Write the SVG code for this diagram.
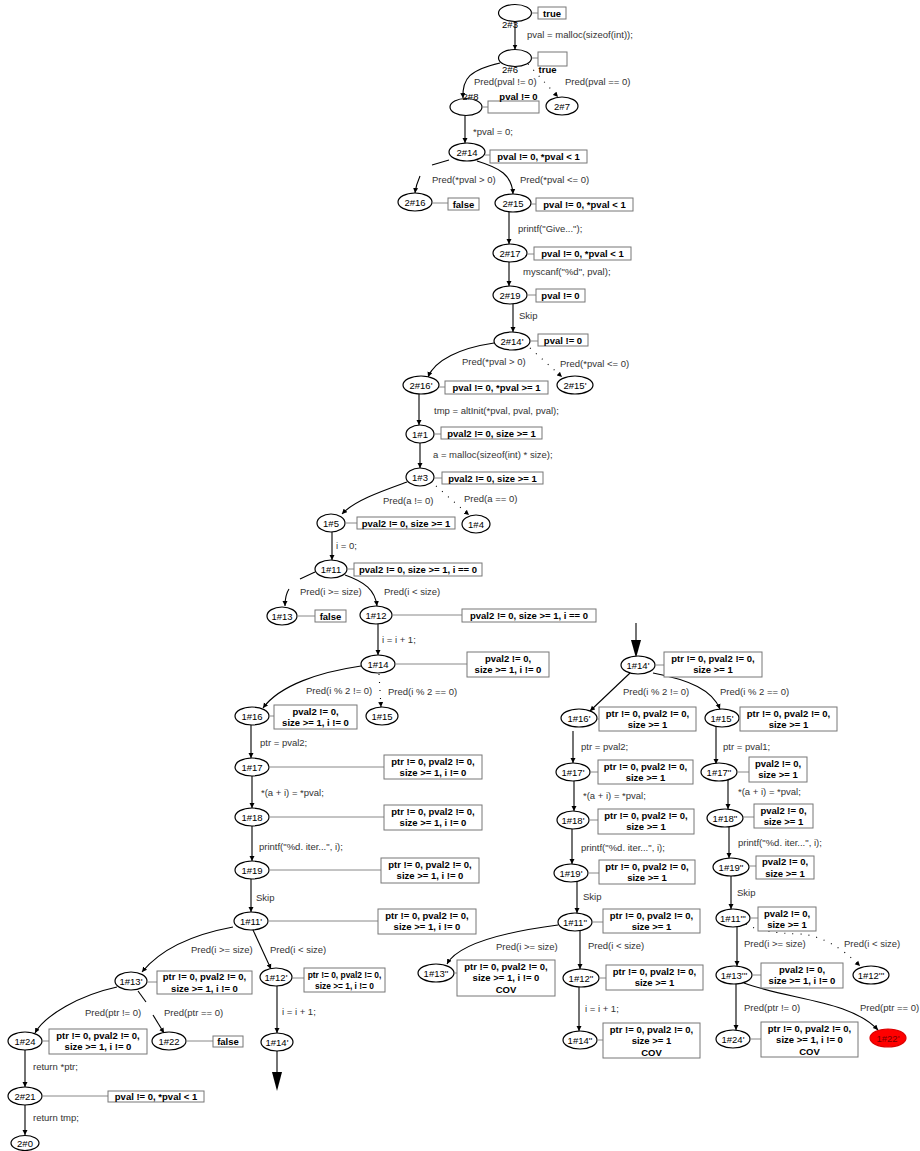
<svg xmlns="http://www.w3.org/2000/svg" width="920" height="1151" viewBox="0 0 920 1151">
<style>
.n{fill:#fff;stroke:#000;stroke-width:1.2}
.r{fill:#f00;stroke:#d00;stroke-width:1.2}
.nl{font-family:"Liberation Sans",Arial,sans-serif;font-size:9.5px;text-anchor:middle;fill:#000}
.bx{fill:#fff;stroke:#777;stroke-width:1}
.bt{font-family:"Liberation Sans",Arial,sans-serif;font-size:9.5px;font-weight:bold;text-anchor:middle;fill:#000}
.c{stroke:#888;stroke-width:1}
.e{fill:none;stroke:#000;stroke-width:1.1;marker-end:url(#ah)}
.p{fill:none;stroke:#000;stroke-width:1.1}
.d{fill:none;stroke:#000;stroke-width:1.1;stroke-dasharray:1 7;marker-end:url(#ah)}
.el{font-family:"Liberation Sans",Arial,sans-serif;font-size:9.5px;fill:#333}
</style>
<defs>
<marker id="ah" markerWidth="6" markerHeight="6" refX="5" refY="3" orient="auto" markerUnits="userSpaceOnUse"><path d="M0,0.5 L5,3 L0,5.5z" fill="#000"/></marker>
</defs>
<rect width="920" height="1151" fill="#fff"/>
<g id="edges">
<path class="e" d="M515,21.5 L515,49.5"/><text class="el" x="527" y="38">pval = malloc(sizeof(int));</text>
<path class="e" d="M500,63 C470,70 462,78 463,98"/><text class="el" x="474" y="85">Pred(pval != 0)</text>
<path class="d" d="M528,64 L558,97"/><text class="el" x="565" y="85">Pred(pval == 0)</text>
<path class="e" d="M465,116 L465,143"/><text class="el" x="473" y="135">*pval = 0;</text>
<path class="p" d="M449,160 L432,165"/><path class="e" d="M420,176 Q416,185 415,193"/><text class="el" x="432" y="183">Pred(*pval &gt; 0)</text>
<path class="e" d="M477,161 C500,168 512,175 513,194"/><text class="el" x="520" y="183">Pred(*pval &lt;= 0)</text>
<path class="e" d="M509,212 L509,244"/><text class="el" x="518" y="232">printf("Give...");</text>
<path class="e" d="M509,262 L509,286"/><text class="el" x="523" y="275">myscanf("%d", pval);</text>
<path class="e" d="M513,304 L513,332"/><text class="el" x="519" y="319">Skip</text>
<path class="e" d="M494,343 C460,348 435,360 428,377"/><text class="el" x="462" y="365">Pred(*pval &gt; 0)</text>
<path class="d" d="M530,348 L562,377"/><text class="el" x="560" y="367">Pred(*pval &lt;= 0)</text>
<path class="e" d="M419,394 L419,425"/><text class="el" x="434" y="414">tmp = altInit(*pval, pval, pval);</text>
<path class="e" d="M420,443 L420,468"/><text class="el" x="433" y="458">a = malloc(sizeof(int) * size);</text>
<path class="e" d="M407,482 C385,490 355,500 342,514"/><text class="el" x="383" y="504">Pred(a != 0)</text>
<path class="d" d="M436,486 L469,515"/><text class="el" x="464" y="502">Pred(a == 0)</text>
<path class="e" d="M332,532 L332,560"/><text class="el" x="336" y="549">i = 0;</text>
<path class="p" d="M315,572 L300,579"/><path class="e" d="M289,589 Q285,595 285,606"/><text class="el" x="300" y="595">Pred(i &gt;= size)</text>
<path class="e" d="M345,575 C365,582 375,590 377,606"/><text class="el" x="384" y="595">Pred(i &lt; size)</text>
<path class="e" d="M378,624 L378,655"/><text class="el" x="382" y="643">i = i + 1;</text>
<path class="e" d="M361,666 C320,672 280,685 263,708"/><text class="el" x="306" y="694">Pred(i % 2 != 0)</text>
<path class="d" d="M379,674 L381,707"/><text class="el" x="388" y="695">Pred(i % 2 == 0)</text>
<path class="e" d="M251,725 L251,758"/><text class="el" x="260" y="746">ptr = pval2;</text>
<path class="e" d="M252,776 L252,808"/><text class="el" x="261" y="796">*(a + i) = *pval;</text>
<path class="e" d="M252,826 L252,861"/><text class="el" x="259" y="850">printf("%d. iter...", i);</text>
<path class="e" d="M251,879 L251,912"/><text class="el" x="256" y="901">Skip</text>
<path class="e" d="M233,927 C190,935 160,950 142,972"/><text class="el" x="191" y="953">Pred(i &gt;= size)</text>
<path class="e" d="M253,930 L271,969"/><text class="el" x="270" y="953">Pred(i &lt; size)</text>
<path class="e" d="M277,986 L277,1033"/><text class="el" x="282" y="1015">i = i + 1;</text>
<path class="e" d="M117,987 C80,995 45,1015 35,1033"/><text class="el" x="85" y="1016">Pred(ptr != 0)</text>
<path class="p" d="M138,991 L146,1002"/><path class="e" d="M153,1015 L164,1033"/><text class="el" x="164" y="1016">Pred(ptr == 0)</text>
<path class="e" d="M25,1050 L25,1087"/><text class="el" x="33" y="1070">return *ptr;</text>
<path class="e" d="M25,1105 L25,1135"/><text class="el" x="33" y="1121">return tmp;</text>
<path class="p" d="M277,1051 L277,1073"/><polygon points="272,1072 282,1072 277,1091" fill="#000"/>
<path class="p" d="M636,623 L636,641"/><polygon points="631,640 641,640 636,658" fill="#000"/>
<path class="e" d="M630,673 L590,711"/><text class="el" x="623" y="695">Pred(i % 2 != 0)</text>
<path class="e" d="M653,673 C690,680 712,690 720,709"/><text class="el" x="720" y="695">Pred(i % 2 == 0)</text>
<path class="e" d="M573,731 L573,763"/><text class="el" x="581" y="750">ptr = pval2;</text>
<path class="e" d="M716,727 L716,764"/><text class="el" x="723" y="750">ptr = pval1;</text>
<path class="e" d="M574,781 L574,811"/><text class="el" x="583" y="799">*(a + i) = *pval;</text>
<path class="e" d="M728,780 L728,809"/><text class="el" x="738" y="795">*(a + i) = *pval;</text>
<path class="e" d="M572,829 L572,864"/><text class="el" x="581" y="851">printf("%d. iter...", i);</text>
<path class="e" d="M729,827 L729,858"/><text class="el" x="738" y="846">printf("%d. iter...", i);</text>
<path class="e" d="M577,882 L577,913"/><text class="el" x="583" y="900">Skip</text>
<path class="e" d="M731,876 L731,909"/><text class="el" x="737" y="896">Skip</text>
<path class="e" d="M558,925 C520,930 460,940 447,964"/><text class="el" x="496" y="950">Pred(i &gt;= size)</text>
<path class="e" d="M580,931 L580,969"/><text class="el" x="588" y="949">Pred(i &lt; size)</text>
<path class="e" d="M579,987 L579,1031"/><text class="el" x="585" y="1012">i = i + 1;</text>
<path class="e" d="M737,927 L737,966"/><text class="el" x="744" y="947">Pred(i &gt;= size)</text>
<path class="d" d="M746,924 Q760,933 800,934 Q830,936 860,966"/><text class="el" x="844" y="947">Pred(i &lt; size)</text>
<path class="e" d="M736,984 L736,1030"/><text class="el" x="744" y="1011">Pred(ptr != 0)</text>
<path class="e" d="M744,983 C790,1000 850,1000 878,1030"/><text class="el" x="860" y="1011">Pred(ptr == 0)</text>
</g>
<g id="n2_3"><ellipse class="n" cx="515" cy="13" rx="16.5" ry="8.5"/><text class="nl" x="510" y="27.5">2#3</text><line class="c" x1="531.5" y1="13" x2="538" y2="13"/><rect class="bx" x="538" y="7" width="28" height="12"/><text class="bt" x="552" y="16.5">true</text></g>
<g id="n2_6"><ellipse class="n" cx="515" cy="58" rx="16.5" ry="8.5"/><text class="nl" x="510" y="72.5">2#6</text><line class="c" x1="531.5" y1="58" x2="538" y2="58"/><rect class="bx" x="538" y="52" width="29" height="14"/><text class="bt" x="547.5" y="72.5">true</text></g>
<g id="n2_8"><ellipse class="n" cx="466" cy="107" rx="16" ry="8.5"/><text class="nl" x="470.5" y="99.5">2#8</text><line class="c" x1="482" y1="107" x2="488" y2="107"/><rect class="bx" x="488" y="101" width="51" height="12"/><text class="bt" x="518.5" y="99.5">pval != 0</text></g>
<g id="n2_7"><ellipse class="n" cx="562" cy="106" rx="16" ry="9"/><text class="nl" x="562" y="109.5">2#7</text></g>
<g id="n2_14"><ellipse class="n" cx="467" cy="152" rx="18" ry="9"/><text class="nl" x="467" y="155.5">2#14</text><line class="c" x1="485" y1="155" x2="490" y2="155"/><rect class="bx" x="490" y="150" width="97" height="13"/><text class="bt" x="538.5" y="160">pval != 0, *pval &lt; 1</text></g>
<g id="n2_16"><ellipse class="n" cx="415" cy="202" rx="17" ry="9"/><text class="nl" x="415" y="205.5">2#16</text><line class="c" x1="432" y1="203" x2="448" y2="203"/><rect class="bx" x="448" y="198" width="31" height="12"/><text class="bt" x="463.5" y="207.5">false</text></g>
<g id="n2_15"><ellipse class="n" cx="513" cy="203" rx="18" ry="9"/><text class="nl" x="513" y="206.5">2#15</text><line class="c" x1="531" y1="204" x2="536" y2="204"/><rect class="bx" x="536" y="198" width="97" height="13"/><text class="bt" x="584.5" y="208">pval != 0, *pval &lt; 1</text></g>
<g id="n2_17"><ellipse class="n" cx="510" cy="253" rx="17" ry="9"/><text class="nl" x="510" y="256.5">2#17</text><line class="c" x1="527" y1="254" x2="534" y2="254"/><rect class="bx" x="534" y="247" width="97" height="13"/><text class="bt" x="582.5" y="257">pval != 0, *pval &lt; 1</text></g>
<g id="n2_19"><ellipse class="n" cx="510" cy="295" rx="17" ry="9"/><text class="nl" x="510" y="298.5">2#19</text><line class="c" x1="527" y1="295" x2="536" y2="295"/><rect class="bx" x="536" y="289" width="49" height="13"/><text class="bt" x="560.5" y="299">pval != 0</text></g>
<g id="n2_14p"><ellipse class="n" cx="512" cy="341" rx="18" ry="9"/><text class="nl" x="512" y="344.5">2#14'</text><line class="c" x1="530" y1="341" x2="538" y2="341"/><rect class="bx" x="538" y="334" width="50" height="12"/><text class="bt" x="563" y="343.5">pval != 0</text></g>
<g id="n2_16p"><ellipse class="n" cx="421" cy="385" rx="18" ry="9"/><text class="nl" x="421" y="388.5">2#16'</text><line class="c" x1="439" y1="387" x2="445" y2="387"/><rect class="bx" x="445" y="381" width="103" height="13"/><text class="bt" x="496.5" y="391">pval != 0, *pval &gt;= 1</text></g>
<g id="n2_15p"><ellipse class="n" cx="575" cy="385" rx="18" ry="9"/><text class="nl" x="575" y="388.5">2#15'</text></g>
<g id="n1_1"><ellipse class="n" cx="420" cy="434" rx="14" ry="9"/><text class="nl" x="420" y="437.5">1#1</text><line class="c" x1="434" y1="434" x2="441" y2="434"/><rect class="bx" x="441" y="427" width="101" height="12"/><text class="bt" x="491.5" y="436.5">pval2 != 0, size &gt;= 1</text></g>
<g id="n1_3"><ellipse class="n" cx="420" cy="477" rx="14" ry="9"/><text class="nl" x="420" y="480.5">1#3</text><line class="c" x1="434" y1="478" x2="442" y2="478"/><rect class="bx" x="442" y="472" width="101" height="12"/><text class="bt" x="492.5" y="481.5">pval2 != 0, size &gt;= 1</text></g>
<g id="n1_5"><ellipse class="n" cx="331" cy="523" rx="14" ry="9"/><text class="nl" x="331" y="526.5">1#5</text><line class="c" x1="345" y1="523" x2="357" y2="523"/><rect class="bx" x="357" y="517" width="98" height="12"/><text class="bt" x="406" y="526.5">pval2 != 0, size &gt;= 1</text></g>
<g id="n1_4"><ellipse class="n" cx="476" cy="524" rx="14" ry="9"/><text class="nl" x="476" y="527.5">1#4</text></g>
<g id="n1_11"><ellipse class="n" cx="331" cy="569" rx="16" ry="9"/><text class="nl" x="331" y="572.5">1#11</text><line class="c" x1="347" y1="569" x2="354" y2="569"/><rect class="bx" x="354" y="563" width="128" height="13"/><text class="bt" x="418" y="573">pval2 != 0, size &gt;= 1, i == 0</text></g>
<g id="n1_13"><ellipse class="n" cx="282" cy="616" rx="15" ry="9"/><text class="nl" x="282" y="619.5">1#13</text><line class="c" x1="297" y1="616" x2="315" y2="616"/><rect class="bx" x="315" y="610" width="31" height="12"/><text class="bt" x="330.5" y="619.5">false</text></g>
<g id="n1_12"><ellipse class="n" cx="376" cy="615" rx="16" ry="9"/><text class="nl" x="376" y="618.5">1#12</text><line class="c" x1="392" y1="615" x2="462" y2="615"/><rect class="bx" x="462" y="609" width="134" height="13"/><text class="bt" x="529" y="619">pval2 != 0, size &gt;= 1, i == 0</text></g>
<g id="n1_14"><ellipse class="n" cx="378" cy="664" rx="17" ry="9"/><text class="nl" x="378" y="667.5">1#14</text><line class="c" x1="395" y1="664" x2="467" y2="664"/><rect class="bx" x="467" y="652" width="82" height="25"/><text class="bt" x="508" y="661.5">pval2 != 0,</text><text class="bt" x="508" y="673">size &gt;= 1, i != 0</text></g>
<g id="n1_16"><ellipse class="n" cx="252" cy="716" rx="17" ry="9"/><text class="nl" x="252" y="719.5">1#16</text><line class="c" x1="269" y1="716" x2="274" y2="716"/><rect class="bx" x="274" y="705" width="83" height="24"/><text class="bt" x="315.5" y="714.5">pval2 != 0,</text><text class="bt" x="315.5" y="726">size &gt;= 1, i != 0</text></g>
<g id="n1_15"><ellipse class="n" cx="382" cy="716" rx="16" ry="9"/><text class="nl" x="382" y="719.5">1#15</text></g>
<g id="n1_17"><ellipse class="n" cx="252" cy="767" rx="17" ry="9"/><text class="nl" x="252" y="770.5">1#17</text><line class="c" x1="269" y1="767" x2="384" y2="767"/><rect class="bx" x="384" y="755" width="98" height="24"/><text class="bt" x="433" y="764.5">ptr != 0, pval2 != 0,</text><text class="bt" x="433" y="776">size &gt;= 1, i != 0</text></g>
<g id="n1_18"><ellipse class="n" cx="252" cy="817" rx="17" ry="9"/><text class="nl" x="252" y="820.5">1#18</text><line class="c" x1="269" y1="817" x2="384" y2="817"/><rect class="bx" x="384" y="805" width="98" height="25"/><text class="bt" x="433" y="814.5">ptr != 0, pval2 != 0,</text><text class="bt" x="433" y="826">size &gt;= 1, i != 0</text></g>
<g id="n1_19"><ellipse class="n" cx="252" cy="870" rx="17" ry="9"/><text class="nl" x="252" y="873.5">1#19</text><line class="c" x1="269" y1="870" x2="381" y2="870"/><rect class="bx" x="381" y="858" width="98" height="25"/><text class="bt" x="430" y="867.5">ptr != 0, pval2 != 0,</text><text class="bt" x="430" y="879">size &gt;= 1, i != 0</text></g>
<g id="n1_11p"><ellipse class="n" cx="251" cy="921" rx="17" ry="9"/><text class="nl" x="251" y="924.5">1#11'</text><line class="c" x1="268" y1="921" x2="378" y2="921"/><rect class="bx" x="378" y="909" width="98" height="25"/><text class="bt" x="427" y="918.5">ptr != 0, pval2 != 0,</text><text class="bt" x="427" y="930">size &gt;= 1, i != 0</text></g>
<g id="n1_13p"><ellipse class="n" cx="131" cy="981" rx="16" ry="9"/><text class="nl" x="131" y="984.5">1#13'</text><line class="c" x1="147" y1="982" x2="157" y2="982"/><rect class="bx" x="157" y="971" width="95" height="23"/><text class="bt" x="204.5" y="980">ptr != 0, pval2 != 0,</text><text class="bt" x="204.5" y="991.5">size &gt;= 1, i != 0</text></g>
<g id="n1_12p"><ellipse class="n" cx="276" cy="977" rx="16" ry="9"/><text class="nl" x="276" y="980.5">1#12'</text><line class="c" x1="292" y1="978" x2="304" y2="978"/><rect class="bx" x="304" y="968" width="81" height="24"/><text class="bt" x="344.5" y="977.5" style="font-size:8.4px">ptr != 0, pval2 != 0,</text><text class="bt" x="344.5" y="989" style="font-size:8.4px">size &gt;= 1, i != 0</text></g>
<g id="n1_24"><ellipse class="n" cx="25" cy="1041" rx="17" ry="9"/><text class="nl" x="25" y="1044.5">1#24</text><line class="c" x1="42" y1="1041" x2="49" y2="1041"/><rect class="bx" x="49" y="1029" width="98" height="25"/><text class="bt" x="98" y="1038.5">ptr != 0, pval2 != 0,</text><text class="bt" x="98" y="1050">size &gt;= 1, i != 0</text></g>
<g id="n1_22"><ellipse class="n" cx="169" cy="1041" rx="17" ry="9"/><text class="nl" x="169" y="1044.5">1#22</text><line class="c" x1="186" y1="1041" x2="213" y2="1041"/><rect class="bx" x="213" y="1036" width="30" height="11"/><text class="bt" x="228" y="1045">false</text></g>
<g id="n2_21"><ellipse class="n" cx="25" cy="1096" rx="17" ry="9"/><text class="nl" x="25" y="1099.5">2#21</text><line class="c" x1="42" y1="1096" x2="108" y2="1096"/><rect class="bx" x="108" y="1091" width="96" height="11"/><text class="bt" x="156" y="1100">pval != 0, *pval &lt; 1</text></g>
<g id="n2_0"><ellipse class="n" cx="25" cy="1143" rx="14" ry="7.5"/><text class="nl" x="25" y="1146.5">2#0</text></g>
<g id="n1_14p_left"><ellipse class="n" cx="277" cy="1042" rx="16" ry="9"/><text class="nl" x="277" y="1045.5">1#14'</text></g>
<g id="n1_14p_right"><ellipse class="n" cx="638" cy="665" rx="17" ry="9"/><text class="nl" x="638" y="668.5">1#14'</text><line class="c" x1="655" y1="665" x2="664" y2="665"/><rect class="bx" x="664" y="652" width="98" height="25"/><text class="bt" x="713" y="661.5">ptr != 0, pval2 != 0,</text><text class="bt" x="713" y="673">size &gt;= 1</text></g>
<g id="n1_16p"><ellipse class="n" cx="579" cy="718" rx="18" ry="9"/><text class="nl" x="579" y="721.5">1#16'</text><line class="c" x1="597" y1="719" x2="599" y2="719"/><rect class="bx" x="599" y="707" width="97" height="24"/><text class="bt" x="647.5" y="716.5">ptr != 0, pval2 != 0,</text><text class="bt" x="647.5" y="728">size &gt;= 1</text></g>
<g id="n1_15p"><ellipse class="n" cx="722" cy="718" rx="17" ry="9"/><text class="nl" x="722" y="721.5">1#15'</text><line class="c" x1="739" y1="719" x2="740" y2="719"/><rect class="bx" x="740" y="707" width="97" height="24"/><text class="bt" x="788.5" y="716.5">ptr != 0, pval2 != 0,</text><text class="bt" x="788.5" y="728">size &gt;= 1</text></g>
<g id="n1_17p"><ellipse class="n" cx="573" cy="772" rx="17" ry="9"/><text class="nl" x="573" y="775.5">1#17'</text><line class="c" x1="590" y1="772" x2="598" y2="772"/><rect class="bx" x="598" y="760" width="95" height="24"/><text class="bt" x="645.5" y="769.5">ptr != 0, pval2 != 0,</text><text class="bt" x="645.5" y="781">size &gt;= 1</text></g>
<g id="n1_17pp"><ellipse class="n" cx="719" cy="772" rx="18" ry="9"/><text class="nl" x="719" y="775.5">1#17''</text><line class="c" x1="737" y1="772" x2="749" y2="772"/><rect class="bx" x="749" y="757" width="58" height="25"/><text class="bt" x="778" y="766.5">pval2 != 0,</text><text class="bt" x="778" y="778">size &gt;= 1</text></g>
<g id="n1_18p"><ellipse class="n" cx="573" cy="820" rx="16" ry="9"/><text class="nl" x="573" y="823.5">1#18'</text><line class="c" x1="589" y1="820" x2="598" y2="820"/><rect class="bx" x="598" y="809" width="96" height="25"/><text class="bt" x="646" y="818.5">ptr != 0, pval2 != 0,</text><text class="bt" x="646" y="830">size &gt;= 1</text></g>
<g id="n1_18pp"><ellipse class="n" cx="725" cy="818" rx="18" ry="9"/><text class="nl" x="725" y="821.5">1#18''</text><line class="c" x1="743" y1="817" x2="754" y2="817"/><rect class="bx" x="754" y="804" width="59" height="24"/><text class="bt" x="783.5" y="813.5">pval2 != 0,</text><text class="bt" x="783.5" y="825">size &gt;= 1</text></g>
<g id="n1_19p"><ellipse class="n" cx="571" cy="873" rx="17" ry="9"/><text class="nl" x="571" y="876.5">1#19'</text><line class="c" x1="588" y1="873" x2="599" y2="873"/><rect class="bx" x="599" y="860" width="96" height="24"/><text class="bt" x="647" y="869.5">ptr != 0, pval2 != 0,</text><text class="bt" x="647" y="881">size &gt;= 1</text></g>
<g id="n1_19pp"><ellipse class="n" cx="731" cy="867" rx="18" ry="9"/><text class="nl" x="731" y="870.5">1#19''</text><line class="c" x1="749" y1="866" x2="756" y2="866"/><rect class="bx" x="756" y="856" width="58" height="23"/><text class="bt" x="785" y="865">pval2 != 0,</text><text class="bt" x="785" y="876.5">size &gt;= 1</text></g>
<g id="n1_11pp"><ellipse class="n" cx="575" cy="922" rx="17" ry="9"/><text class="nl" x="575" y="925.5">1#11''</text><line class="c" x1="592" y1="922" x2="603" y2="922"/><rect class="bx" x="603" y="909" width="97" height="24"/><text class="bt" x="651.5" y="918.5">ptr != 0, pval2 != 0,</text><text class="bt" x="651.5" y="930">size &gt;= 1</text></g>
<g id="n1_11ppp"><ellipse class="n" cx="733" cy="918" rx="17" ry="9"/><text class="nl" x="733" y="921.5">1#11'''</text><line class="c" x1="750" y1="918" x2="758" y2="918"/><rect class="bx" x="758" y="907" width="58" height="24"/><text class="bt" x="787" y="916.5">pval2 != 0,</text><text class="bt" x="787" y="928">size &gt;= 1</text></g>
<g id="n1_13pp"><ellipse class="n" cx="436" cy="973" rx="18" ry="9"/><text class="nl" x="436" y="976.5">1#13''</text><line class="c" x1="454" y1="973" x2="457" y2="973"/><rect class="bx" x="457" y="960" width="98" height="36"/><text class="bt" x="506" y="969.5">ptr != 0, pval2 != 0,</text><text class="bt" x="506" y="981">size &gt;= 1, i != 0</text><text class="bt" x="506" y="992.5">COV</text></g>
<g id="n1_12pp"><ellipse class="n" cx="581" cy="978" rx="18" ry="9"/><text class="nl" x="581" y="981.5">1#12''</text><line class="c" x1="599" y1="978" x2="606" y2="978"/><rect class="bx" x="606" y="965" width="97" height="25"/><text class="bt" x="654.5" y="974.5">ptr != 0, pval2 != 0,</text><text class="bt" x="654.5" y="986">size &gt;= 1</text></g>
<g id="n1_14pp"><ellipse class="n" cx="580" cy="1040" rx="17" ry="9"/><text class="nl" x="580" y="1043.5">1#14''</text><line class="c" x1="597" y1="1040" x2="603" y2="1040"/><rect class="bx" x="603" y="1023" width="97" height="35"/><text class="bt" x="651.5" y="1032.5">ptr != 0, pval2 != 0,</text><text class="bt" x="651.5" y="1044">size &gt;= 1</text><text class="bt" x="651.5" y="1055.5">COV</text></g>
<g id="n1_13ppp"><ellipse class="n" cx="734" cy="975" rx="18" ry="9"/><text class="nl" x="734" y="978.5">1#13'''</text><line class="c" x1="752" y1="975" x2="761" y2="975"/><rect class="bx" x="761" y="963" width="82" height="25"/><text class="bt" x="802" y="972.5">pval2 != 0,</text><text class="bt" x="802" y="984">size &gt;= 1, i != 0</text></g>
<g id="n1_12ppp"><ellipse class="n" cx="871" cy="975" rx="18" ry="9"/><text class="nl" x="871" y="978.5">1#12'''</text></g>
<g id="n1_24p"><ellipse class="n" cx="733" cy="1039" rx="17" ry="9"/><text class="nl" x="733" y="1042.5">1#24'</text><line class="c" x1="750" y1="1039" x2="761" y2="1039"/><rect class="bx" x="761" y="1022" width="97" height="35"/><text class="bt" x="809.5" y="1031.5">ptr != 0, pval2 != 0,</text><text class="bt" x="809.5" y="1043">size &gt;= 1, i != 0</text><text class="bt" x="809.5" y="1054.5">COV</text></g>
<g id="n1_22p"><ellipse class="r" cx="888" cy="1038" rx="18" ry="9"/><text class="nl" x="888" y="1041.5" style="fill:#700">1#22'</text></g>
</svg>
